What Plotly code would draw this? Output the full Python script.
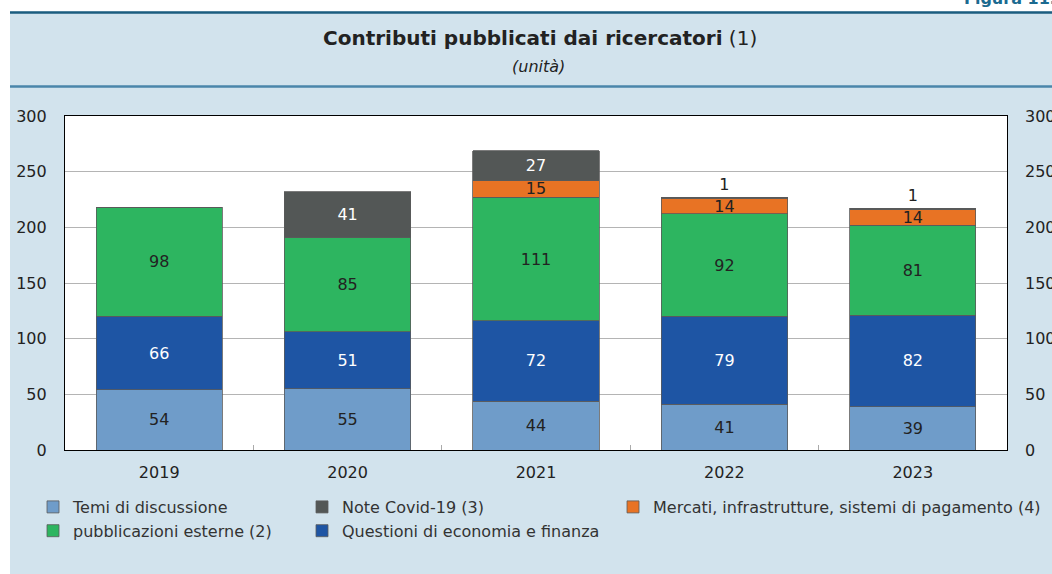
import plotly.graph_objects as go

years = ["2019", "2020", "2021", "2022", "2023"]
temi = [54, 55, 44, 41, 39]
questioni = [66, 51, 72, 79, 82]
pubblicazioni = [98, 85, 111, 92, 81]
mercati = [0, 0, 15, 14, 14]
covid = [0, 41, 27, 1, 1]

y_ticks = [0, 50, 100, 150, 200, 250, 300]

W, H = 1052, 574
L, R, T, B = 65, 45, 116, 124
PW, PH = W - L - R, H - T - B


def fx(sx):
    return (sx - L) / PW


def fy(sy):
    return (H - B - sy) / PH


DARK = "#222222"
FONT = "DejaVu Sans, Verdana, sans-serif"


def labels(vals):
    return [str(v) if v else "" for v in vals]


fig = go.Figure()
series = [
    ("Temi di discussione", temi, "#6f9cc9", DARK, "legend", 1),
    ("Questioni di economia e finanza", questioni, "#1e55a4", "#ffffff", "legend2", 2),
    ("pubblicazioni esterne (2)", pubblicazioni, "#2db560", DARK, "legend", 2),
    ("Mercati, infrastrutture, sistemi di pagamento (4)", mercati, "#e87324", DARK, "legend3", 1),
]
for name, vals, col, tcol, leg, rank in series:
    fig.add_trace(go.Bar(
        x=years, y=vals, name=name,
        marker=dict(color=col, line=dict(color="#5a5a5a", width=0.8)),
        text=labels(vals), textposition="inside", insidetextanchor="middle",
        textfont=dict(color=tcol, size=16, family=FONT), constraintext="none",
        legend=leg, legendrank=rank,
    ))

fig.add_trace(go.Bar(
    x=years, y=covid, name="Note Covid-19 (3)",
    marker=dict(color="#535756", line=dict(color="#5a5a5a", width=0.8)),
    text=labels(covid),
    textposition=["inside", "inside", "inside", "outside", "outside"],
    insidetextanchor="middle",
    textfont=dict(color=["#ffffff", "#ffffff", "#ffffff", DARK, DARK], size=16, family=FONT),
    constraintext="none", cliponaxis=False,
    legend="legend2", legendrank=1,
))

# invisible trace carrying the right-hand axis
fig.add_trace(go.Scatter(x=years, y=[None] * 5, yaxis="y2", showlegend=False, hoverinfo="skip"))

shapes = [
    dict(type="rect", xref="paper", yref="paper", x0=-1, x1=fx(10), y0=-1, y1=2,
         fillcolor="white", line=dict(width=0), layer="below"),
    dict(type="rect", xref="paper", yref="paper", x0=-1, x1=2, y0=fy(11.5), y1=2,
         fillcolor="white", line=dict(width=0), layer="below"),
    dict(type="line", xref="paper", yref="paper", x0=fx(10), x1=2, y0=fy(12.5), y1=fy(12.5),
         line=dict(color="#1b5d7f", width=2.5)),
    dict(type="line", xref="paper", yref="paper", x0=fx(10), x1=2, y0=fy(86.5), y1=fy(86.5),
         line=dict(color="#4a86aa", width=2.5)),
]

annotations = [
    dict(text="<b>Contributi pubblicati dai ricercatori</b> (1)", xref="paper", yref="paper",
         x=fx(540), y=fy(38), xanchor="center", yanchor="middle", showarrow=False,
         font=dict(size=20, color=DARK, family=FONT)),
    dict(text="<i>(unità)</i>", xref="paper", yref="paper",
         x=fx(538), y=fy(66), xanchor="center", yanchor="middle", showarrow=False,
         font=dict(size=16, color=DARK, family=FONT)),
    dict(text="<b>Figura 11.1</b>", xref="paper", yref="paper",
         x=fx(962), y=fy(10), xanchor="left", yanchor="bottom", showarrow=False,
         font=dict(size=16, color="#1b6a90", family=FONT)),
]

leg_common = dict(orientation="v", xanchor="left", yanchor="top", traceorder="normal",
                  bgcolor="rgba(0,0,0,0)", borderwidth=0, tracegroupgap=0,
                  font=dict(size=16, color="#333333", family=FONT), itemwidth=30)

fig.update_layout(
    width=W, height=H,
    margin=dict(l=L, r=R, t=T, b=B, pad=0, autoexpand=False),
    paper_bgcolor="#d2e3ed", plot_bgcolor="white",
    barmode="stack", bargap=0.33,
    font=dict(family=FONT, size=16, color=DARK),
    showlegend=True,
    legend=dict(x=fx(33), y=fy(490), **leg_common),
    legend2=dict(x=fx(302), y=fy(490), **leg_common),
    legend3=dict(x=fx(613), y=fy(490), **leg_common),
    xaxis=dict(type="category", showline=True, linecolor="black", linewidth=1.2, mirror=True,
               ticks="inside", tickson="boundaries", ticklen=5, tickcolor="#aaaaaa",
               ticklabelstandoff=8, tickfont=dict(size=16, color=DARK), showgrid=False),
    yaxis=dict(range=[0, 300], tickvals=y_ticks, showline=True, linecolor="black", linewidth=1.2,
               mirror=True, showgrid=True, gridcolor="#b4b4b4", gridwidth=1, zeroline=False,
               ticks="", ticklabelstandoff=14, tickfont=dict(size=16, color=DARK)),
    yaxis2=dict(range=[0, 300], tickvals=y_ticks, overlaying="y", side="right", showgrid=False,
                zeroline=False, showline=False, ticks="", ticklabelstandoff=17,
                tickfont=dict(size=16, color=DARK)),
    shapes=shapes, annotations=annotations,
)

fig.write_html("out.html", config={"displayModeBar": False},
               post_script="document.body.style.margin='0';")
